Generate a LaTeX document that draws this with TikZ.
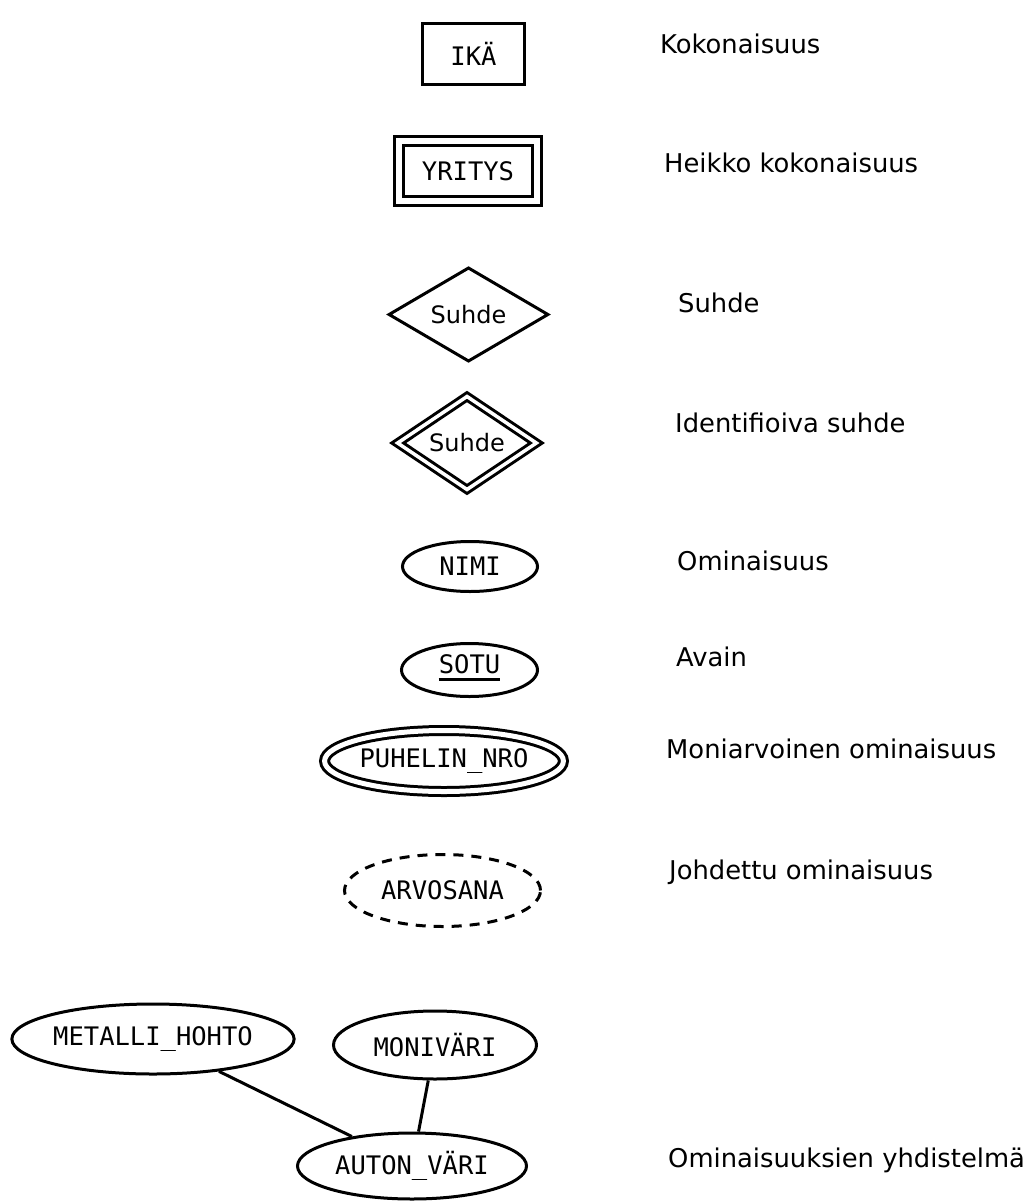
\documentclass[tikz,border=0pt]{standalone}
\usepackage{fontspec}
\setmainfont{DejaVu Sans}
\setmonofont{DejaVu Sans Mono}
\usetikzlibrary{shapes.geometric}

\newcommand{\ershapefont}{\ttfamily\fontsize{25.5}{30}\selectfont}
\newcommand{\errelfont}{\fontsize{24}{29}\selectfont}
\newcommand{\erdescfont}{\fontsize{25.8}{31}\selectfont}

\tikzset{
  erline/.style={draw=black, line width=3pt, inner sep=0pt, text=black},
  entitybox/.style={erline, rectangle, font=\ershapefont},
  relbox/.style={erline, diamond, font=\errelfont},
  attrell/.style={erline, ellipse, font=\ershapefont},
  desctext/.style={anchor=base west, inner sep=0pt, font=\erdescfont},
  connector/.style={draw=black, line width=3pt}
}

\begin{document}
\begin{tikzpicture}[x=1pt, y=-1pt]
            \useasboundingbox (0,0) rectangle (1029,1201);
            % symbols
            \node [entitybox, minimum width=102pt, minimum height=61pt] (ika) at (473.5,54) {IKÄ};
            \node [entitybox, double, double distance=6pt, minimum width=138.5pt, minimum height=60.5pt] (yritys) at (468,171) {YRITYS};
            \node [relbox, minimum width=160pt, minimum height=94pt] (suhde) at (468.5,314.5) {Suhde};
            \node [relbox, double, double distance=3.5pt, minimum width=140pt, minimum height=86pt] (idsuhde) at (467,443) {Suhde};
            \node [attrell, minimum width=135pt, minimum height=50pt] (nimi) at (470,566.5) {NIMI};
            \node [attrell, minimum width=136pt, minimum height=53pt] (sotu) at (469.5,670) {};
            \node [anchor=base, inner sep=0pt, font=\ershapefont] (sotutxt) at (469.5,673) {SOTU};
            \draw [line width=3pt] ([yshift=-6pt]sotutxt.base west) -- ([yshift=-6pt]sotutxt.base east);
            \node [attrell, double, double distance=5pt, minimum width=234pt, minimum height=61pt] (puhelin) at (444,761) {PUHELIN\_NRO};
            \node [attrell, dash pattern=on 10pt off 8pt, minimum width=196pt, minimum height=72pt] (arvosana) at (442.5,890.5) {ARVOSANA};
            % composite attribute
            \node [attrell, minimum width=278pt, minimum height=70pt] (metalli) at (153,1039) {METALLI\_HOHTO};
            \node [attrell, minimum width=203pt, minimum height=68pt] (monivari) at (435,1045) {MONIVÄRI};
            \node [attrell, minimum width=229pt, minimum height=66pt] (autonvari) at (412,1166) {AUTON\_VÄRI};
            \draw [connector] (metalli) -- (autonvari);
            \draw [connector] (monivari) -- (autonvari);
            % descriptions
            \node [desctext] (dkok) at (660,54) {Kokonaisuus};
            \node [desctext] (dheikko) at (664,172) {Heikko kokonaisuus};
            \node [desctext] (dsuhde) at (678,312) {Suhde};
            \node [desctext] (didsuhde) at (675,432) {Identifioiva suhde};
            \node [desctext] (domin) at (677,570) {Ominaisuus};
            \node [desctext] (davain) at (676,666) {Avain};
            \node [desctext] (dmoni) at (666,758) {Moniarvoinen ominaisuus};
            \node [desctext] (djoh) at (669,879) {Johdettu ominaisuus};
            \node [desctext] (dyhd) at (668,1167) {Ominaisuuksien yhdistelmä};
        \end{tikzpicture}
\end{document}
